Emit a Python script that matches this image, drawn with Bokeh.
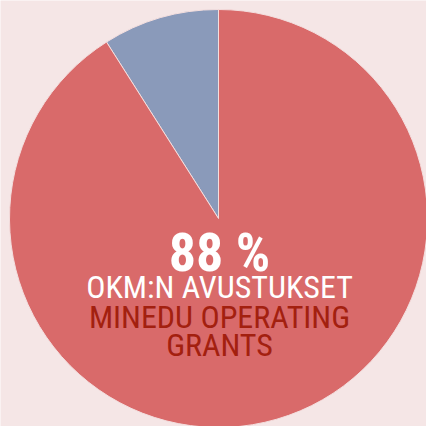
from math import pi
import numpy as np
from bokeh.plotting import figure
from bokeh.models import Range1d, ColumnDataSource
from bokeh.core.properties import value
from bokeh.embed import file_html
from bokeh.resources import INLINE

# data
categories = ["Muut / Other", "OKM:n avustukset / MinEdu operating grants"]
shares = [9, 91]
colors = ["#8a9aba", "#d96a6a"]
headline = "88 %"
label_fi = "OKM:N AVUSTUKSET"
label_en = ["MINEDU OPERATING", "GRANTS"]

BG = "#f5e6e6"
W = H = 426

frac = np.array(shares, dtype=float) / sum(shares)
ends = pi / 2 + 2 * pi * np.cumsum(frac)
starts = np.concatenate([[pi / 2], ends[:-1]])
src = ColumnDataSource(dict(cat=categories, start=starts, end=ends, color=colors))

p = figure(width=W, height=H, output_backend="svg", toolbar_location=None,
           x_range=Range1d(0, W), y_range=Range1d(0, H), min_border=0)
p.axis.visible = False
p.grid.visible = False
p.outline_line_color = None
p.background_fill_color = BG
p.border_fill_color = BG

cx, cy, r = 218, H - 218, 209
p.wedge(x=cx, y=cy, radius=r, start_angle="start", end_angle="end",
        fill_color="color", line_color="#f3dede", line_width=1, source=src)

font = value("Roboto Condensed, Liberation Sans Narrow, DejaVu Sans Condensed, sans-serif")
p.text(x=[219], y=[H - 252], text=[headline], text_font=font, text_font_size="54px",
       text_font_style="bold", text_color="white", text_align="center", text_baseline="alphabetic")
p.text(x=[219], y=[H - 286], text=[label_fi], text_font=font, text_font_size="32px",
       text_color="white", text_align="center", text_baseline="alphabetic")
p.text(x=[219, 219], y=[H - 316, H - 344], text=label_en, text_font=font, text_font_size="32px",
       text_color="#a3200f", text_align="center", text_baseline="alphabetic")

open("out.html", "w").write(file_html(p, INLINE))
